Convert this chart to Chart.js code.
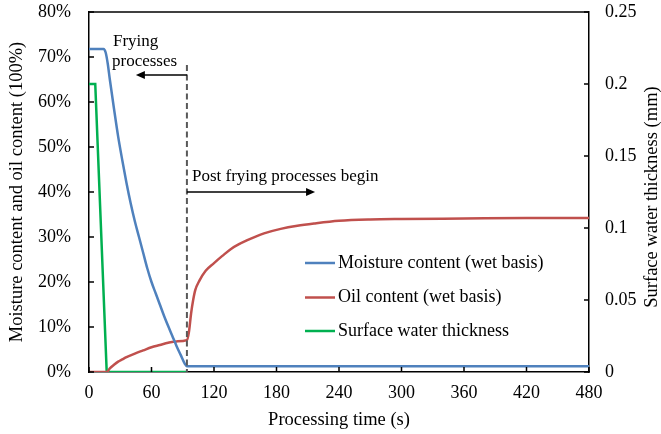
<!DOCTYPE html>
<html>
<head>
<meta charset="utf-8">
<script src="https://cdn.jsdelivr.net/npm/chart.js@4.4.1/dist/chart.umd.min.js"></script>
<style>
  body { margin: 0; background: #fff; }
  #wrap { width: 661px; height: 434px; }
</style>
</head>
<body>
<div id="wrap"><canvas id="chart"></canvas></div>
<script>
// =====================
// DATOS
// =====================
const xTicks = [0, 60, 120, 180, 240, 300, 360, 420, 480];

// contenido de humedad (%)
const moistTime = [0, 14, 16, 18, 20, 24, 28, 32, 36, 40, 44, 48, 52, 56, 60, 64, 68, 72, 76, 80, 84, 88, 92, 94, 480];
const moistVal  = [71.8, 71.8, 71, 68.5, 65, 58.5, 52.3, 47, 42, 37.5, 33.5, 30, 26.5, 23, 20, 17.5, 15, 12.5, 10.2, 8, 5.8, 3.8, 1.8, 1.3, 1.3];

// contenido de aceite (%)
const oilTime = [0, 17, 20, 24, 28, 32, 36, 44, 52, 60, 68, 76, 84, 94, 96, 98, 100, 102, 106, 112, 120, 128, 136, 144, 152, 160, 168, 184, 200, 216, 240, 270, 300, 360, 420, 480];
const oilVal  = [0, 0, 0.8, 1.6, 2.3, 2.8, 3.3, 4.1, 4.8, 5.5, 6, 6.5, 6.8, 7.1, 9, 13, 16, 18.2, 20.3, 22.5, 24.2, 25.8, 27.3, 28.4, 29.3, 30.1, 30.8, 31.8, 32.5, 33, 33.6, 33.9, 34, 34.1, 34.2, 34.2];

// espesor de agua superficial (mm)
const waterTime = [0, 6, 17, 94];
const waterVal  = [0.2, 0.2, 0, 0];

// fin de la fritura (s) y flechas
const fryEnd = 94;
const fryArrowTo = 45;
const postArrowTo = 217;

const FONT = "'Liberation Serif', 'Times New Roman', serif";

function pts(t, v) {
    return t.map((x, i) => ({ x: x, y: v[i] }));
}

// ancho fijo del eje y sin relleno extra arriba/abajo
function fixY(w) {
    return s => {
        s.width = w;
        s.paddingTop = 0;
        s.paddingBottom = 0;
    };
}

// =====================
// PLUGIN: marco, ticks hacia dentro, anotaciones y leyenda
// =====================
const decor = {
    id: "decor",
    afterDatasetsDraw(chart) {
        const ctx = chart.ctx;
        const a = chart.chartArea;
        const sx = chart.scales.x, sy = chart.scales.y, sy2 = chart.scales.y2;

        ctx.save();
        ctx.strokeStyle = "#000";
        ctx.lineWidth = 1.5;

        // borde superior
        ctx.beginPath();
        ctx.moveTo(a.left, a.top);
        ctx.lineTo(a.right, a.top);
        ctx.stroke();

        // ticks hacia dentro
        ctx.beginPath();
        sx.ticks.forEach(t => {
            const px = sx.getPixelForValue(t.value);
            ctx.moveTo(px, a.bottom);
            ctx.lineTo(px, a.bottom - 5);
        });
        sy.ticks.forEach(t => {
            const py = sy.getPixelForValue(t.value);
            ctx.moveTo(a.left, py);
            ctx.lineTo(a.left + 5, py);
        });
        sy2.ticks.forEach(t => {
            const py = sy2.getPixelForValue(t.value);
            ctx.moveTo(a.right, py);
            ctx.lineTo(a.right - 5, py);
        });
        ctx.stroke();

        // linea discontinua de fin de fritura
        const xEnd = sx.getPixelForValue(fryEnd);
        ctx.strokeStyle = "#595959";
        ctx.lineWidth = 2;
        ctx.setLineDash([6, 3.5]);
        ctx.beginPath();
        ctx.moveTo(xEnd, sy.getPixelForValue(68.2));
        ctx.lineTo(xEnd, a.bottom);
        ctx.stroke();
        ctx.setLineDash([]);

        // flechas
        function arrow(x1, x2, y) {
            const dir = x2 > x1 ? 1 : -1;
            ctx.strokeStyle = "#000";
            ctx.fillStyle = "#000";
            ctx.lineWidth = 1.3;
            ctx.beginPath();
            ctx.moveTo(x1, y);
            ctx.lineTo(x2 - dir * 7, y);
            ctx.stroke();
            ctx.beginPath();
            ctx.moveTo(x2, y);
            ctx.lineTo(x2 - dir * 9, y - 4);
            ctx.lineTo(x2 - dir * 9, y + 4);
            ctx.closePath();
            ctx.fill();
        }
        arrow(xEnd, sx.getPixelForValue(fryArrowTo), sy.getPixelForValue(66));
        arrow(xEnd, sx.getPixelForValue(postArrowTo), sy.getPixelForValue(40));

        // textos
        ctx.fillStyle = "#000";
        ctx.font = "17px " + FONT;
        ctx.textBaseline = "middle";
        ctx.textAlign = "left";
        ctx.fillText("Frying", 113, 42);
        ctx.fillText("processes", 112, 62);
        ctx.fillText("Post frying processes begin", 192, 177);

        // leyenda
        ctx.font = "18px " + FONT;
        const rows = [263, 297.5, 331];
        chart.data.datasets.forEach((ds, i) => {
            ctx.strokeStyle = ds.borderColor;
            ctx.lineWidth = 2.5;
            ctx.beginPath();
            ctx.moveTo(305, rows[i]);
            ctx.lineTo(335, rows[i]);
            ctx.stroke();
            ctx.fillStyle = "#000";
            ctx.fillText(ds.label, 338, rows[i]);
        });

        // titulo del eje derecho (de abajo hacia arriba)
        ctx.save();
        ctx.translate(652, 197);
        ctx.rotate(-Math.PI / 2);
        ctx.textAlign = "center";
        ctx.font = "18.5px " + FONT;
        ctx.fillText("Surface water thickness (mm)", 0, 0);
        ctx.restore();

        ctx.restore();
    }
};

// =====================
// GRAFICO
// =====================
new Chart(document.getElementById("chart"), {
    type: "line",
    data: {
        datasets: [
            {
                label: "Moisture content (wet basis)",
                data: pts(moistTime, moistVal),
                borderColor: "#4F81BD",
                yAxisID: "y",
                cubicInterpolationMode: "monotone"
            },
            {
                label: "Oil content (wet basis)",
                data: pts(oilTime, oilVal),
                borderColor: "#C0504D",
                yAxisID: "y",
                cubicInterpolationMode: "monotone"
            },
            {
                label: "Surface water thickness",
                data: pts(waterTime, waterVal),
                borderColor: "#00B050",
                yAxisID: "y2",
                tension: 0
            }
        ]
    },
    options: {
        responsive: true,
        maintainAspectRatio: false,
        animation: false,
        layout: { padding: { top: 12 } },
        elements: {
            point: { radius: 0 },
            line: { borderWidth: 2.5 }
        },
        plugins: {
            legend: { display: false },
            tooltip: { enabled: false }
        },
        scales: {
            x: {
                type: "linear",
                min: 0,
                max: 480,
                afterBuildTicks: s => { s.ticks = xTicks.map(v => ({ value: v })); },
                afterFit: s => { s.height = 62; },
                grid: { display: false, drawTicks: false },
                border: { color: "#000", width: 1.5 },
                ticks: { padding: 10, color: "#000", font: { family: FONT, size: 18 } },
                title: {
                    display: true,
                    text: "Processing time (s)",
                    color: "#000",
                    font: { family: FONT, size: 18.5 },
                    padding: { bottom: 3, top: 0 }
                }
            },
            y: {
                position: "left",
                min: 0,
                max: 80,
                afterFit: fixY(89),
                grid: { display: false, drawTicks: false },
                border: { color: "#000", width: 1.5 },
                ticks: {
                    stepSize: 10,
                    padding: 18,
                    color: "#000",
                    font: { family: FONT, size: 18 },
                    callback: v => v + "%"
                },
                title: {
                    display: true,
                    text: "Moisture content and oil content (100%)",
                    color: "#000",
                    font: { family: FONT, size: 18.5 },
                    padding: { top: 6, bottom: 0 }
                }
            },
            y2: {
                position: "right",
                min: 0,
                max: 0.25,
                afterFit: fixY(72),
                grid: { display: false, drawTicks: false },
                border: { color: "#000", width: 1.5 },
                ticks: {
                    stepSize: 0.05,
                    padding: 16,
                    color: "#000",
                    font: { family: FONT, size: 18 },
                    callback: v => String(Number(v.toFixed(2)))
                }
            }
        }
    },
    plugins: [decor]
});
</script>
</body>
</html>
